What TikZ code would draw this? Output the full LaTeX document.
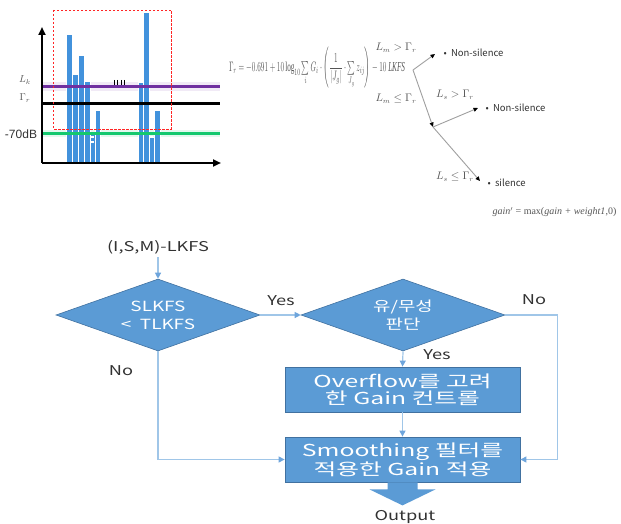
\documentclass[tikz,border=0pt]{standalone}
\usepackage{fontspec}
\usepackage{amsmath}
\setmainfont{Liberation Serif}
\newfontfamily\kr[FakeStretch=1.35]{Noto Sans CJK KR}
\newfontfamily\krwide[FakeStretch=1.5]{Noto Sans CJK KR}
\newfontfamily\krplain{Noto Sans CJK KR}
\newfontfamily\arialf{Liberation Sans}
\usetikzlibrary{arrows.meta,shapes.geometric}

\definecolor{barblue}{RGB}{66,146,220}
\definecolor{boxblue}{RGB}{91,155,213}
\definecolor{boxedge}{RGB}{65,113,160}
\definecolor{linkblue}{RGB}{160,198,232}
\definecolor{tipblue}{RGB}{110,165,220}
\definecolor{txtgray}{RGB}{50,50,50}
\definecolor{gatepurple}{RGB}{112,48,160}
\definecolor{gategreen}{RGB}{20,200,110}
\definecolor{formgray}{RGB}{85,85,85}

\begin{document}
\begin{tikzpicture}[x=1pt,y=-1pt,
  decision/.style={diamond, aspect=2.8, fill=boxblue, draw=boxedge, line width=0.6pt,
    minimum width=204pt, minimum height=72pt, inner sep=0pt,
    font=\kr\fontsize{14}{18}\selectfont, text=white, align=center},
  process/.style={rectangle, fill=boxblue, draw=boxedge, line width=0.8pt,
    minimum width=235pt, minimum height=45pt, inner sep=0pt,
    font=\krwide\fontsize{16.5}{17.5}\selectfont, text=white, align=center},
  link/.style={draw=linkblue, line width=1.2pt, -{Triangle[length=6pt,width=6pt,color=tipblue]}},
  lab/.style={font=\kr\fontsize{13.5}{15}\selectfont, text=txtgray},
  branch/.style={draw=gray!75, line width=0.9pt, -{Triangle[length=4.5pt,width=4pt,color=black]}},
  cond/.style={font=\fontsize{10.5}{12}\selectfont, text=formgray},
  outcome/.style={font=\krplain\fontsize{9.5}{11}\selectfont, text=txtgray, anchor=west},
  bar/.style={fill=barblue, draw=white, line width=0.4pt},
  gate/.style={line width=3pt},
]
\useasboundingbox (0,0) rectangle (621,524);

% ---------- loudness bar chart ----------
% soft halo around the gate lines
\draw[line width=9pt, gatepurple!10] (42,87) -- (220,87);
\draw[line width=7pt, gategreen!12] (42,134) -- (220,134);

% short-term loudness bars
\foreach \x/\t/\w in {66/34/6, 72/74/6, 78/55/6, 84/81/6, 90/132/5, 95/110/5.5,
                      138/82/5, 143/12/6, 149/137/5, 154/110/6}
  \path[bar] (\x,163) rectangle (\x+\w,\t);
\fill[white] (91,136) rectangle (93.5,138.5);
\fill[white] (91,141) rectangle (93.5,143);
\fill[white] (150,136) rectangle (152.5,138.5);

% gate levels
\draw[gate, gatepurple] (42,87) -- (220,87);
\draw[gate, black] (42,104) -- (220,104);
\draw[gate, gategreen] (42,134) -- (220,134);

% axes
\draw[line width=2.2pt, -{Triangle[length=8pt,width=7pt]}] (42,163) -- (42,27);
\draw[line width=2.2pt, -{Triangle[length=8pt,width=7pt]}] (42,163) -- (221,163);

% gated block window
\draw[red!85, dashed, line width=0.7pt, dash pattern=on 2.5pt off 1.5pt] (53,10) rectangle (171,129);

% ellipsis between the two bursts
\foreach \x in {114,117.5,121,124.5}
  \draw[black, line width=0.7pt] (\x,80) -- (\x,85);

\node[text=formgray, font=\fontsize{10}{11}\selectfont] (lk) at (25,80) {$L_k$};
\node[text=formgray, font=\fontsize{10}{11}\selectfont] (gr) at (25,98) {$\Gamma_r$};
\node[text=txtgray, font=\arialf\fontsize{12}{13}\selectfont] (db) at (21,134) {-70dB};

% ---------- relative gate formula ----------
\node[text=formgray, inner sep=0pt] (gam) at (317,68)
  {\resizebox{176pt}{24pt}{$\Gamma_r = -0.691 + 10\log_{10}\sum\limits_i G_i\cdot
   \left(\dfrac{1}{|J_g|}\cdot\sum\limits_{J_g} z_{ij}\right) - 10\ \mathit{LKFS}$}};

% ---------- decision tree ----------
\coordinate (tv) at (413,70);
\coordinate (tu) at (435,54);
\coordinate (tj) at (433,127);
\coordinate (ta) at (478,108);
\coordinate (tb) at (480,181);
\draw[branch] (tv) -- (tu);
\draw[branch] (tv) -- (tj);
\draw[branch] (tj) -- (ta);
\draw[branch] (tj) -- (tb);

\node[cond] (c1) at (396,48) {$L_m > \Gamma_r$};
\node[cond] (c2) at (396,99) {$L_m \le \Gamma_r$};
\node[cond] (c3) at (455,95) {$L_s > \Gamma_r$};
\node[cond] (c4) at (455,177) {$L_s \le \Gamma_r$};

\node[outcome] (o1) at (440,53) {•\ \ Non-silence};
\node[outcome] (o2) at (482,108) {•\ \ Non-silence};
\node[outcome] (o3) at (484,183) {•\ \ silence};

\node[text=formgray, anchor=west, font=\fontsize{10}{11}\selectfont] (gn) at (489,212)
  {\itshape gain$'$ \upshape = max(\itshape gain + weight1\upshape ,0)};

% ---------- gain control flowchart ----------
\node[lab] (inp) at (158,247) {(I,S,M)-LKFS};
\node[decision] (d1) at (158,315) {SLKFS\\<\ \ TLKFS};
\node[decision] (d2) at (403,315) {유/무성\\판단};
\node[process] (b1) at (402.5,389.5) {Overflow를 고려\\한 Gain 컨트롤};
\node[process] (b2) at (402.5,459.5) {Smoothing 필터를\\적용한 Gain 적용};

\draw[link] (inp.south) -- (d1.north);
\draw[link] (d1.east) -- (d2.west);
\draw[link] (d2.south) -- (b1.north);
\draw[link] (b1.south) -- (b2.north);
\draw[link] (d1.south) |- (b2.west);
\draw[link] (d2.east) -- ++(52,0) |- (b2.east);

\node[lab] (yes1) at (281,301) {Yes};
\node[lab] (yes2) at (437,355) {Yes};
\node[lab] (no1) at (121,371) {No};
\node[lab] (no2) at (534,300) {No};

% output block arrow
\begin{scope}[shift={(b2.south)}]
  \fill[boxblue] (-15,0) -- (15,0) -- (15,7) -- (33,7) -- (0,23) -- (-33,7) -- (-15,7) -- cycle;
\end{scope}
\node[lab] (out) at (405,517) {Output};
\end{tikzpicture}
\end{document}
